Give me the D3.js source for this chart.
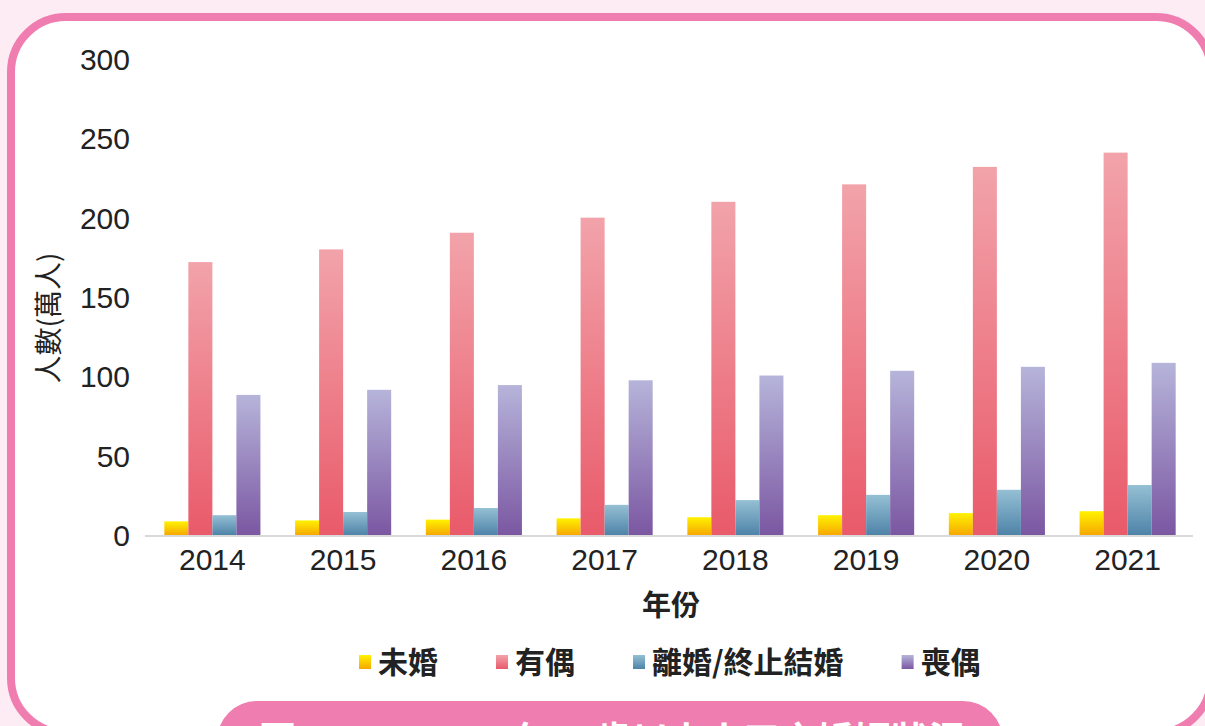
<!DOCTYPE html>
<html>
<head>
<meta charset="utf-8">
<script src="https://cdn.jsdelivr.net/npm/d3@7/dist/d3.min.js"></script>
<style>
  html, body { margin: 0; padding: 0; background: #fdecf3; }
  svg { display: block; }
</style>
</head>
<body>
<svg id="chart" width="1205" height="726"></svg>
<script>
// ---- data ----
const years = ["2014", "2015", "2016", "2017", "2018", "2019", "2020", "2021"];
const seriesNames = ["未婚", "有偶", "離婚/終止結婚", "喪偶"];
const unmarried = [8.6, 9.2, 9.7, 10.5, 11.2, 12.5, 13.8, 15.0];
const married   = [172, 180, 190.5, 200, 210, 221, 232, 241];
const divorced  = [12.5, 14.5, 17, 19, 22, 25.3, 28.5, 31.5];
const widowed   = [88.3, 91.5, 94.5, 97.5, 100.5, 103.5, 106, 108.5];
const yTicks = [0, 50, 100, 150, 200, 250, 300];
const yTitle = "人數(萬人)";
const xTitle = "年份";
const caption = "圖2 2014-2021年65歲以上人口之婚姻狀況";

const seriesValues = [unmarried, married, divorced, widowed];
const gradColors = [
  ["#fff200", "#f6a800"],
  ["#f2a3aa", "#e95a6a"],
  ["#95c0d4", "#4e83a8"],
  ["#b6b4da", "#7b57a2"]
];

const svg = d3.select("#chart");
const cjk = "'Noto Sans CJK TC', 'Noto Sans CJK SC', sans-serif";
const latin = "'Liberation Sans', Arial, sans-serif";

// defs: gradients
const defs = svg.append("defs");
gradColors.forEach((c, i) => {
  const g = defs.append("linearGradient").attr("id", "g" + i)
    .attr("x1", 0).attr("y1", 0).attr("x2", 0).attr("y2", 1);
  g.append("stop").attr("offset", "0%").attr("stop-color", c[0]);
  g.append("stop").attr("offset", "100%").attr("stop-color", c[1]);
});

// frame
svg.append("rect").attr("x", 11).attr("y", 17).attr("width", 1200).attr("height", 716)
  .attr("rx", 55).attr("ry", 55)
  .attr("fill", "#ffffff").attr("stroke", "#f07db0").attr("stroke-width", 8);

// scales
const x0 = d3.scaleBand().domain(years).range([147, 1193]).paddingInner(0.265).paddingOuter(0.1325);
const x1 = d3.scaleBand().domain(seriesNames).range([0, x0.bandwidth()]);
const y = d3.scaleLinear().domain([0, 300]).range([535, 59]);

// y axis labels
const yAxis = d3.axisLeft(y).tickValues(yTicks).tickSize(0).tickPadding(0);
const yg = svg.append("g").attr("transform", "translate(130,0)").call(yAxis);
yg.select(".domain").remove();
yg.selectAll("text").attr("font-family", latin).attr("font-size", 30)
  .attr("fill", "#222").attr("dy", "0.35em");

// bars
const groups = svg.append("g").selectAll("g").data(years).join("g")
  .attr("transform", d => `translate(${x0(d)},0)`);
groups.selectAll("rect")
  .data((d, yi) => seriesNames.map((s, si) => ({ s, si, v: seriesValues[si][yi] })))
  .join("rect")
  .attr("x", d => x1(d.s))
  .attr("width", x1.bandwidth())
  .attr("y", d => y(d.v))
  .attr("height", d => y(0) - y(d.v))
  .attr("fill", d => `url(#g${d.si})`);

// x axis
const xAxis = d3.axisBottom(x0).tickSize(0).tickPadding(0);
const xg = svg.append("g").attr("transform", "translate(0,536)").call(xAxis);
xg.select(".domain").attr("stroke", "#d9d9d9").attr("stroke-width", 2)
  .attr("d", "M145,0H1193");
xg.selectAll("text").attr("font-family", latin).attr("font-size", 30)
  .attr("fill", "#222").attr("y", 34).attr("dy", 0);

// axis titles
svg.append("text").attr("transform", "translate(59,318) rotate(-90)")
  .attr("text-anchor", "middle").attr("font-family", cjk).attr("font-size", 28)
  .attr("font-weight", "normal").attr("fill", "#222").text(yTitle);
svg.append("text").attr("x", 671).attr("y", 616)
  .attr("text-anchor", "middle").attr("font-family", cjk).attr("font-size", 29)
  .attr("font-weight", "bold").attr("fill", "#222").text(xTitle);

// legend
const legend = svg.append("g");
let lx = 359;
seriesNames.forEach((s, i) => {
  const item = legend.append("g").attr("transform", `translate(${lx},0)`);
  item.append("rect").attr("x", 0).attr("y", 655).attr("width", 12).attr("height", 14)
    .attr("fill", `url(#g${i})`);
  const t = item.append("text").attr("x", 19).attr("y", 673)
    .attr("font-family", cjk).attr("font-size", 30).attr("font-weight", "bold")
    .attr("fill", "#222").text(s);
  const w = t.node().getComputedTextLength();
  lx += 19 + w + 58;
});

// caption pill (clipped at the bottom edge, as in the reference)
svg.append("rect").attr("x", 217).attr("y", 701).attr("width", 786).attr("height", 80)
  .attr("rx", 40).attr("ry", 40).attr("fill", "#f07db0");
svg.append("text").attr("x", 612).attr("y", 754).attr("text-anchor", "middle")
  .attr("font-family", cjk).attr("font-size", 37).attr("font-weight", "bold")
  .attr("fill", "#ffffff").text(caption);
</script>
</body>
</html>
